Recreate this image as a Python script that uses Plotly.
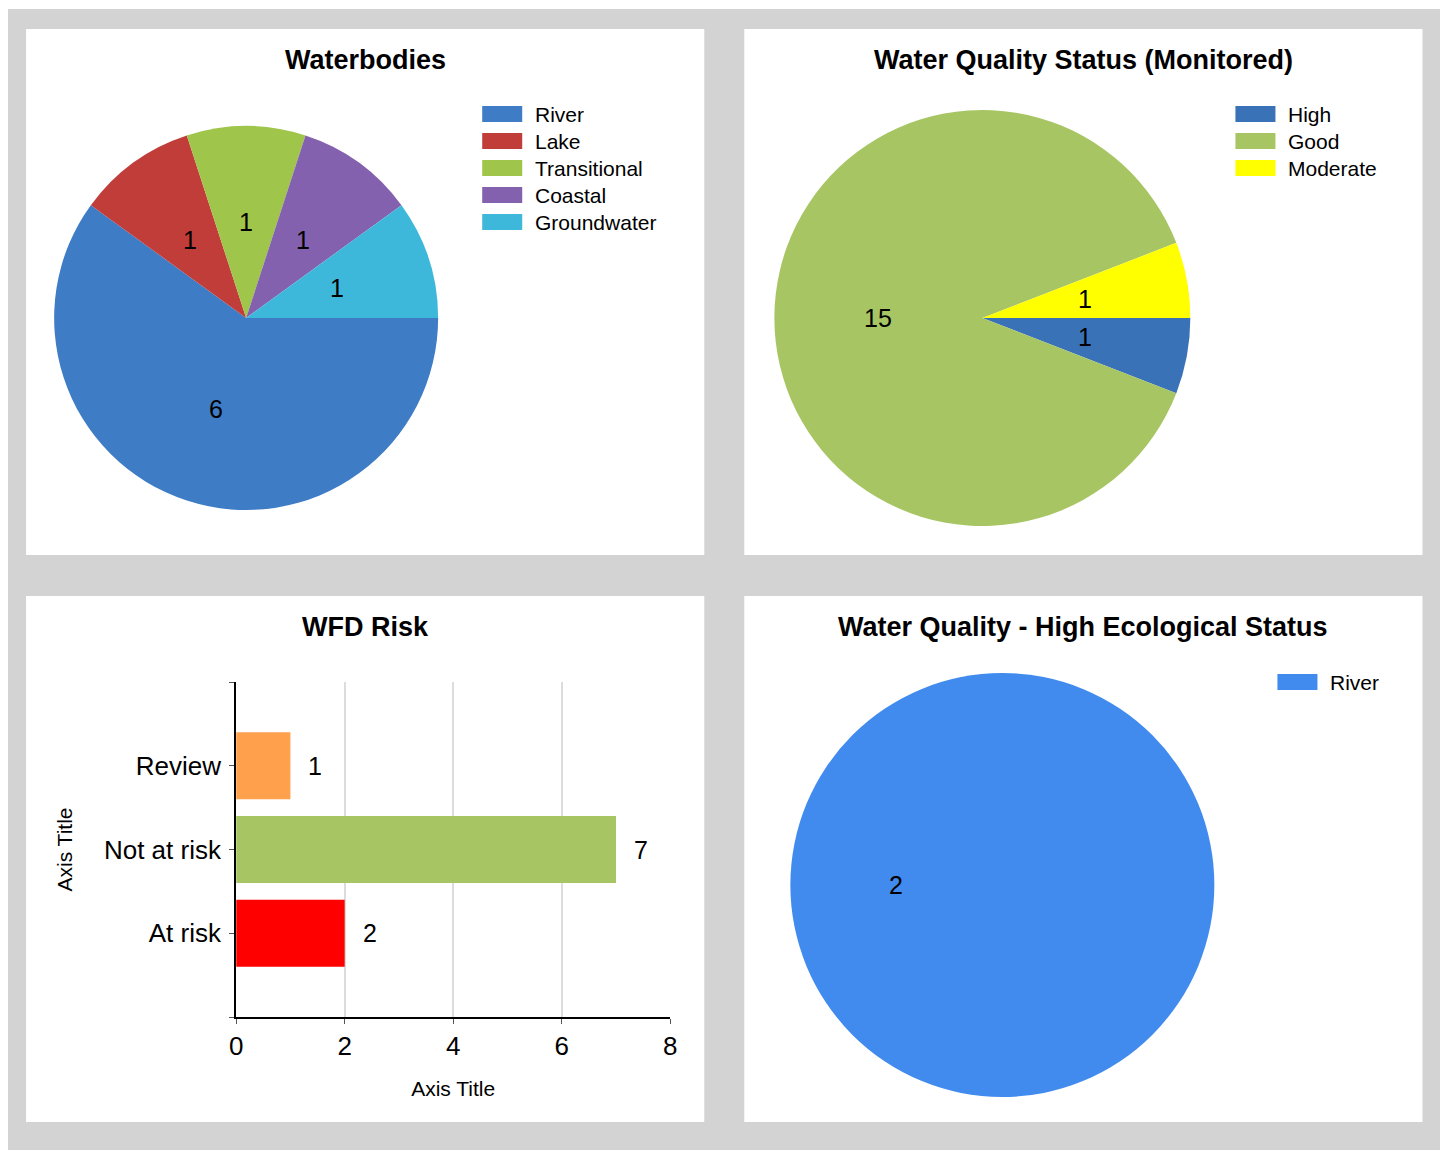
import math
import plotly.graph_objects as go

# The page body adds an 8px margin; the figure is drawn 8px smaller and
# reference pixel positions are mapped into figure pixels.
OFF = 8
W, H = 1448 - OFF, 1150 - OFF
SX, BX = 0.99, 7.0   # observed horizontal mapping page -> photo

# ---------------- data ----------------
wb_labels = ["River", "Lake", "Transitional", "Coastal", "Groundwater"]
wb_values = [6, 1, 1, 1, 1]
wb_colors = ["#3E7CC6", "#C13D3A", "#9FC54A", "#8361AF", "#3DB8DA"]

wq_labels = ["High", "Good", "Moderate"]
wq_values = [1, 15, 1]
wq_colors = ["#3A72B8", "#A7C663", "#FFFF00"]

hes_labels = ["River"]
hes_values = [2]
hes_colors = ["#418BEE"]

risk_cats = ["At risk", "Not at risk", "Review"]
risk_values = [2, 7, 1]
risk_colors = ["#FF0000", "#A7C663", "#FFA04C"]
risk_ticks = [0, 2, 4, 6, 8]

titles = ["Waterbodies", "Water Quality Status (Monitored)", "WFD Risk",
          "Water Quality - High Ecological Status"]

FONT = "Arial, Liberation Sans, sans-serif"


def px(x):
    return ((x - BX) / SX - OFF) / W


def py(y):
    return 1 - (y - OFF) / H


fig = go.Figure()
shapes = []
annotations = []

# background
shapes.append(dict(type="rect", xref="paper", yref="paper", x0=px(5), x1=px(1442),
                   y0=-0.01, y1=py(9), fillcolor="#D3D3D3", line_width=0, layer="below"))
panels = [(26, 704, 29, 555), (744, 1422, 29, 555), (26, 704, 596, 1122), (744, 1422, 596, 1122)]
for (x0, x1, y0, y1) in panels:
    shapes.append(dict(type="rect", xref="paper", yref="paper", x0=px(x0), x1=px(x1),
                       y0=py(y1), y1=py(y0), fillcolor="#FFFFFF", line_width=0, layer="below"))

# titles
title_pos = [(365, 60), (1083, 60), (365, 627), (1083, 627)]
for t, (tx, ty) in zip(titles, title_pos):
    annotations.append(dict(text="<b>%s</b>" % t, x=px(tx), y=py(ty), xref="paper", yref="paper",
                            showarrow=False, xanchor="center", yanchor="middle",
                            font=dict(family=FONT, size=27, color="#000000")))


def add_pie(labels, values, colors, cx, cy, r):
    fig.add_trace(go.Pie(labels=labels, values=values, sort=False, direction="clockwise",
                         rotation=90, marker=dict(colors=colors, line=dict(width=0)),
                         textinfo="none", hoverinfo="label+value", showlegend=False,
                         domain=dict(x=[px(cx - r - 3), px(cx + r + 3)],
                                     y=[py(cy + r), py(cy - r)])))
    total = sum(values)
    cum = 0
    for v in values:
        mid = (cum + v / 2) / total * 2 * math.pi
        ang = -mid
        lx = cx + 0.5 * r * math.cos(ang)
        ly = cy - 0.5 * r * math.sin(ang)
        annotations.append(dict(text=str(v), x=px(lx), y=py(ly), xref="paper", yref="paper",
                                showarrow=False, xanchor="center", yanchor="middle",
                                font=dict(family=FONT, size=25, color="#000000")))
        cum += v


def add_legend(labels, colors, sx, cy0, step=27):
    for i, (lab, col) in enumerate(zip(labels, colors)):
        cy = cy0 + i * step
        shapes.append(dict(type="rect", xref="paper", yref="paper", x0=px(sx), x1=px(sx + 40),
                           y0=py(cy + 8), y1=py(cy - 8), fillcolor=col, line_width=0))
        annotations.append(dict(text=lab, x=px(sx + 51), y=py(cy), xref="paper", yref="paper",
                                showarrow=False, xanchor="left", yanchor="middle",
                                font=dict(family=FONT, size=21, color="#000000")))


add_pie(wb_labels, wb_values, wb_colors, 246, 318, 192)
add_legend(wb_labels, wb_colors, 482, 114)

add_pie(wq_labels, wq_values, wq_colors, 982, 318, 208)
add_legend(wq_labels, wq_colors, 1235, 114)

add_pie(hes_labels, hes_values, hes_colors, 1002, 885, 212)
add_legend(hes_labels, hes_colors, 1277, 682)

# bar chart
yidx = list(range(len(risk_cats)))
fig.add_trace(go.Bar(x=risk_values, y=yidx, orientation="h", width=0.8,
                     marker=dict(color=risk_colors, line=dict(width=0)),
                     showlegend=False, hovertext=risk_cats, hoverinfo="text+x"))
for v, yi in zip(risk_values, yidx):
    annotations.append(dict(text=str(v), x=v, y=yi, xref="x", yref="y", showarrow=False,
                            xanchor="left", yanchor="middle", xshift=16,
                            font=dict(family=FONT, size=25, color="#000000")))

fig.update_layout(
    width=W, height=H, margin=dict(l=0, r=0, t=0, b=0),
    paper_bgcolor="#FFFFFF", plot_bgcolor="rgba(0,0,0,0)",
    font=dict(family=FONT, color="#000000"),
    shapes=shapes, annotations=annotations,
    xaxis=dict(domain=[px(236), px(670)], range=[0, 8], tickvals=risk_ticks,
               showgrid=True, gridcolor="#DCDCDC", gridwidth=2, zeroline=False,
               showline=True, linecolor="#000000", linewidth=2,
               ticks="outside", ticklen=5, tickcolor="#555555", tickwidth=1,
               tickfont=dict(family=FONT, size=26, color="#000000"),
               title=dict(text="Axis Title", font=dict(family=FONT, size=21, color="#000000"),
                          standoff=21),
               anchor="y", fixedrange=True),
    yaxis=dict(domain=[py(1017), py(682)], range=[-1, 3],
               tickvals=[-1] + yidx + [3], ticktext=[""] + risk_cats + [""],
               showgrid=False, zeroline=False,
               showline=True, linecolor="#000000", linewidth=2,
               ticks="outside", ticklen=5, tickcolor="#555555", tickwidth=1,
               tickfont=dict(family=FONT, size=26, color="#000000"),
               ticklabelstandoff=3,
               title=dict(text="Axis Title", font=dict(family=FONT, size=21, color="#000000"),
                          standoff=26),
               anchor="x", fixedrange=True),
)

fig.write_html("out.html", config={"displayModeBar": False})
